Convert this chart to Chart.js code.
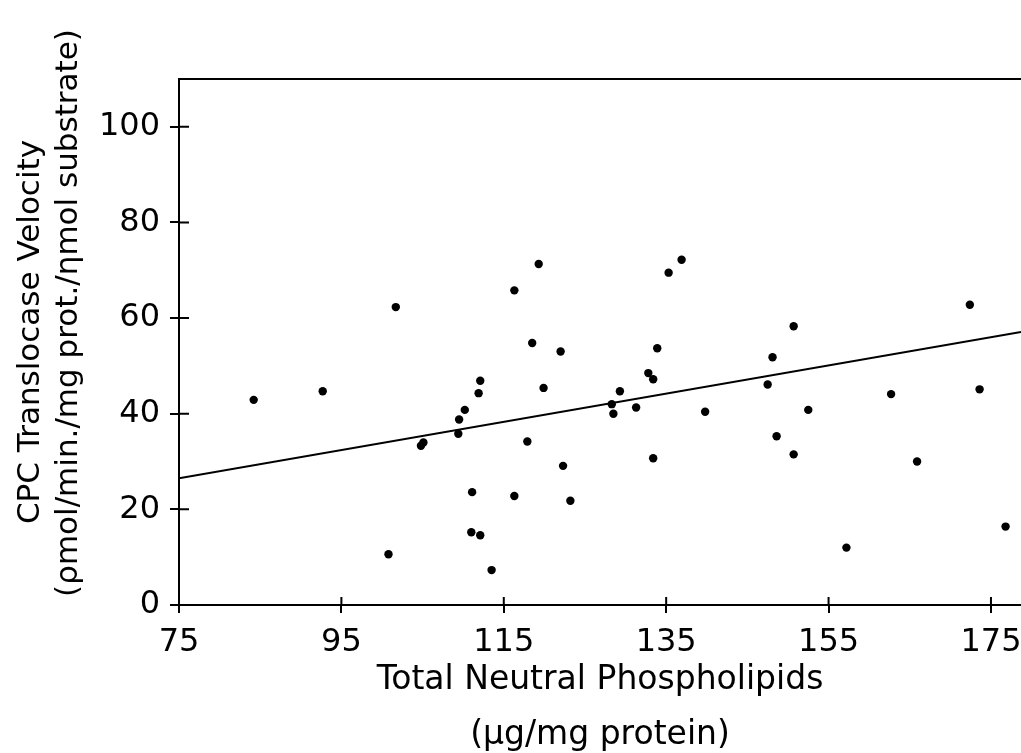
<!DOCTYPE html>
<html>
<head>
<meta charset="utf-8">
<script src="https://cdn.jsdelivr.net/npm/chart.js@4.4.1/dist/chart.umd.min.js"></script>
<style>
    html, body { margin: 0; padding: 0; background: #fff; }
    #wrap { width: 1021px; height: 753px; }
</style>
</head>
<body>
<div id="wrap"><canvas id="chart"></canvas></div>
<script>
// values
const phospholipids = [84.2, 92.7, 100.8, 101.7, 104.8, 105.1, 109.4, 109.5, 110.2, 111.0,
    111.1, 111.9, 112.1, 112.1, 113.5, 116.3, 116.3, 117.9, 118.5, 119.3,
    119.9, 122.0, 122.3, 123.2, 128.3, 128.5, 129.3, 131.3, 132.8, 133.4,
    133.4, 133.9, 135.3, 136.9, 139.8, 147.5, 148.1, 148.6, 150.7, 150.7,
    152.5, 157.2, 162.7, 165.9, 172.4, 173.6, 176.8];
const velocity = [42.9, 44.7, 10.6, 62.3, 33.3, 34.0, 35.8, 38.8, 40.8, 15.2,
    23.6, 44.3, 46.9, 14.6, 7.3, 65.8, 22.8, 34.2, 54.8, 71.3,
    45.4, 53.0, 29.1, 21.8, 42.0, 40.0, 44.7, 41.3, 48.5, 47.2,
    30.7, 53.7, 69.5, 72.2, 40.4, 46.1, 51.8, 35.3, 58.3, 31.5,
    40.8, 12.0, 44.1, 30.0, 62.8, 45.1, 16.4];

// regression line end points
const fitX = [75, 178.7];
const fitY = [26.5, 57.1];

const xTicks = [75, 95, 115, 135, 155, 175];
const yTicks = [0, 20, 40, 60, 80, 100];

const yTitleLines = ['CPC Translocase Velocity', '(ρmol/min./mg prot./ηmol substrate)'];

const FONT = "'DejaVu Sans', sans-serif";

// ticks that cross the axes, the top frame line and the y title
const frameAndTicks = {
    id: 'frameAndTicks',
    afterDraw(chart) {
        const {ctx, chartArea, scales} = chart;
        ctx.save();
        ctx.strokeStyle = '#000';
        ctx.lineWidth = 2;
        ctx.beginPath();
        xTicks.forEach(v => {
            const px = scales.x.getPixelForValue(v);
            ctx.moveTo(px, chartArea.bottom);
            ctx.lineTo(px, chartArea.bottom - 8);
        });
        yTicks.forEach(v => {
            const py = scales.y.getPixelForValue(v);
            ctx.moveTo(chartArea.left, py);
            ctx.lineTo(chartArea.left + 10, py);
        });
        ctx.moveTo(chartArea.left, chartArea.top);
        ctx.lineTo(chartArea.right, chartArea.top);
        ctx.stroke();

        // y title sits a bit above the middle of the axis in the original
        ctx.fillStyle = '#000';
        ctx.font = '31px ' + FONT;
        ctx.textAlign = 'center';
        ctx.textBaseline = 'middle';
        const spots = [[31, 332], [69, 313]];
        yTitleLines.forEach((t, i) => {
            ctx.save();
            ctx.translate(spots[i][0], spots[i][1]);
            ctx.rotate(-Math.PI / 2);
            ctx.fillText(t, 0, 0);
            ctx.restore();
        });
        ctx.restore();
    }
};

const points = phospholipids.map((x, i) => ({x: x, y: velocity[i]}));
const fit = fitX.map((x, i) => ({x: x, y: fitY[i]}));

new Chart(document.getElementById('chart').getContext('2d'), {
    type: 'scatter',
    data: {
        datasets: [
            {
                data: points,
                backgroundColor: '#000',
                borderWidth: 0,
                pointRadius: 4.2
            },
            {
                type: 'line',
                data: fit,
                borderColor: '#000',
                borderWidth: 2,
                pointRadius: 0,
                fill: false
            }
        ]
    },
    options: {
        responsive: true,
        maintainAspectRatio: false,
        animation: false,
        layout: {
            autoPadding: false,
            padding: {top: 79, right: 0, bottom: 0, left: 0}
        },
        plugins: {
            legend: {display: false},
            tooltip: {enabled: false}
        },
        scales: {
            x: {
                type: 'linear',
                min: 75,
                max: 178.7,
                afterBuildTicks: s => { s.ticks = xTicks.map(v => ({value: v})); },
                afterFit: s => {
                    s.height = 148;
                    s.paddingRight = 0;
                    s.paddingLeft = 0;
                },
                grid: {drawOnChartArea: false, tickLength: 8, color: '#000', lineWidth: 2},
                border: {color: '#000', width: 2},
                ticks: {color: '#000', font: {family: FONT, size: 32}, padding: 10, maxRotation: 0, autoSkip: false},
                title: {
                    display: true,
                    text: ['Total Neutral Phospholipids', '(μg/mg protein)'],
                    color: '#000',
                    font: {family: FONT, size: 33, lineHeight: 1.64},
                    padding: {top: 0, bottom: -9}
                }
            },
            y: {
                min: 0,
                max: 110,
                afterBuildTicks: s => { s.ticks = yTicks.map(v => ({value: v})); },
                afterFit: s => { s.width = 179; },
                grid: {drawOnChartArea: false, tickLength: 9, color: '#000', lineWidth: 2},
                border: {color: '#000', width: 2},
                ticks: {color: '#000', font: {family: FONT, size: 32}, padding: 10}
            }
        }
    },
    plugins: [frameAndTicks]
});
</script>
</body>
</html>
